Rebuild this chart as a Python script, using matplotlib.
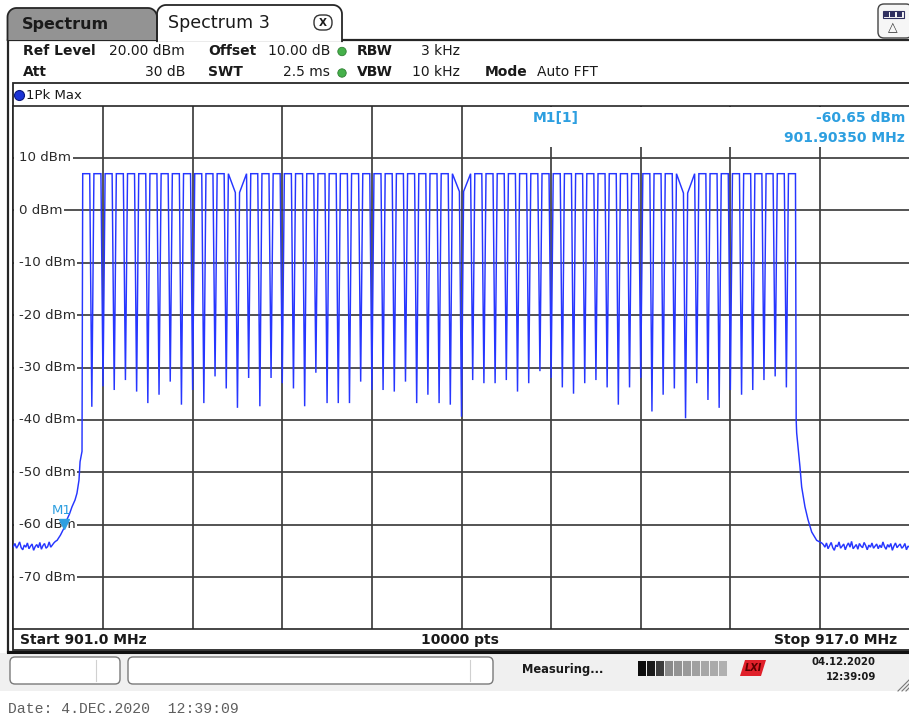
import numpy as np
import matplotlib
matplotlib.use("Agg")
import matplotlib.pyplot as plt
from matplotlib.patches import Rectangle, FancyBboxPatch, Circle, Polygon
from matplotlib.transforms import blended_transform_factory, offset_copy

# ---------------------------------------------------------------- data
start_mhz, stop_mhz = 901.0, 917.0
ref_level_dbm, bottom_dbm = 20.0, -80.0

# LoRa uplink channel plan (125 kHz channels on a 200 kHz raster)
channel_center_mhz = [
    902.3, 902.5, 902.7, 902.9, 903.1, 903.3, 903.5, 903.7, 903.9, 904.1,
    904.3, 904.5, 904.7, 904.9, 905.1, 905.3, 905.5, 905.7, 905.9, 906.1,
    906.3, 906.5, 906.7, 906.9, 907.1, 907.3, 907.5, 907.7, 907.9, 908.1,
    908.3, 908.5, 908.7, 908.9, 909.1, 909.3, 909.5, 909.7, 909.9, 910.1,
    910.3, 910.5, 910.7, 910.9, 911.1, 911.3, 911.5, 911.7, 911.9, 912.1,
    912.3, 912.5, 912.7, 912.9, 913.1, 913.3, 913.5, 913.7, 913.9, 914.1,
    914.3, 914.5, 914.7, 914.9]
channel_bw_mhz = 0.125
carrier_dbm = [
    7.0, 7.0, 7.0, 7.0, 7.0, 7.0, 7.0, 7.0, 7.0, 7.0,
    7.0, 7.0, 7.0, 7.0, 7.0, 7.0, 7.0, 7.0, 7.0, 7.0,
    7.0, 7.0, 7.0, 7.0, 7.0, 7.0, 7.0, 7.0, 7.0, 7.0,
    7.0, 7.0, 7.0, 7.0, 7.0, 7.0, 7.0, 7.0, 7.0, 7.0,
    7.0, 7.0, 7.0, 7.0, 7.0, 7.0, 7.0, 7.0, 7.0, 7.0,
    7.0, 7.0, 7.0, 7.0, 7.0, 7.0, 7.0, 7.0, 7.0, 7.0,
    7.0, 7.0, 7.0, 7.0]
# deepest level reached in each of the 63 gaps between neighbouring channels
gap_floor_dbm = [
    -37.5, -33.6, -34.3, -32.4, -34.6, -36.8, -35.2, -32.7, -37.1, -34.3,
    -36.8, -31.7, -34.0, -37.7, -32.0, -37.4, -32.0, -33.0, -34.0, -37.4,
    -31.0, -36.8, -36.8, -36.8, -32.7, -34.3, -34.3, -34.6, -32.7, -36.8,
    -35.2, -36.8, -37.1, -39.4, -32.4, -33.0, -33.0, -32.4, -34.6, -33.0,
    -30.7, -32.0, -33.8, -35.0, -33.0, -32.4, -33.8, -37.1, -33.8, -32.0,
    -38.4, -35.2, -34.0, -39.7, -33.0, -36.2, -37.7, -34.3, -35.2, -34.3,
    -32.4, -31.7, -33.8]
# gaps (1-based) where the neighbouring channel tops sag towards the gap
sagging_gap_edge_dbm = {14: 3.4, 34: 3.6, 54: 3.3}

# band edges: noise floor and filter skirts
left_floor_dbm = [
    -64.2, -63.6, -64.5, -64.0, -63.3, -64.4, -64.8, -63.9, -64.3, -63.5,
    -64.6, -64.1, -63.7, -64.9, -64.2, -63.8, -64.4, -63.4, -64.7, -64.0,
    -63.6, -64.5, -64.2, -63.3, -64.3, -63.9, -63.5, -63.2]
left_floor_span_mhz = (901.0, 901.75)
left_skirt_mhz = [901.78, 901.84, 901.9035, 901.957, 902.00, 902.046, 902.10,
                  902.135, 902.171, 902.19, 902.225]
left_skirt_dbm = [-63.0, -62.0, -60.65, -59.0, -58.0, -56.6, -55.3,
                  -54.0, -51.5, -48.0, -46.0]
right_skirt_mhz = [914.975, 914.984, 915.043, 915.073, 915.132, 915.185,
                   915.252, 915.341, 915.431]
right_skirt_dbm = [-40.0, -42.5, -49.0, -52.8, -56.6, -59.0, -61.4, -63.0, -63.5]
right_floor_dbm = [
    -63.8, -64.3, -63.5, -64.6, -64.0, -63.4, -64.4, -64.9, -63.9, -64.2,
    -63.3, -64.5, -64.1, -63.7, -64.8, -64.0, -63.5, -64.3, -63.2, -64.6,
    -64.2, -63.8, -64.7, -63.6, -64.1, -64.4, -63.4, -64.0, -64.8, -63.9,
    -64.3, -63.5, -64.5, -64.1, -63.7, -64.6, -63.9, -64.4, -63.3, -64.2,
    -64.7, -63.8, -64.3, -63.6, -64.9, -64.1, -63.5, -64.4, -64.0, -63.7,
    -64.5, -64.2, -63.6, -64.8, -64.1, -64.3]
right_floor_span_mhz = (915.46, 917.0)

marker_mhz, marker_dbm = 901.9035, -60.65

freq_grid_mhz = [902.6, 904.2, 905.8, 907.4, 909.0, 910.6, 912.2, 913.8, 915.4]
level_grid_dbm = [10, 0, -10, -20, -30, -40, -50, -60, -70]

# ---------------------------------------------------------------- trace
f_tr = list(np.linspace(*left_floor_span_mhz, len(left_floor_dbm)))
p_tr = list(left_floor_dbm)
f_tr += left_skirt_mhz
p_tr += left_skirt_dbm
half = channel_bw_mhz / 2
n_ch = len(channel_center_mhz)
for i, fc in enumerate(channel_center_mhz):
    lvl_left = sagging_gap_edge_dbm.get(i, carrier_dbm[i]) if i > 0 else carrier_dbm[i]
    lvl_right = sagging_gap_edge_dbm.get(i + 1, carrier_dbm[i]) if i < n_ch - 1 else carrier_dbm[i]
    f_tr += [fc - half, fc + half]
    p_tr += [lvl_left, lvl_right]
    if i < n_ch - 1:
        f_tr.append((fc + channel_center_mhz[i + 1]) / 2)
        p_tr.append(gap_floor_dbm[i])
f_tr += right_skirt_mhz
p_tr += right_skirt_dbm
f_tr += list(np.linspace(*right_floor_span_mhz, len(right_floor_dbm)))
p_tr += right_floor_dbm

# ---------------------------------------------------------------- figure
W, H = 909, 719
fig = plt.figure(figsize=(W / 100, H / 100), dpi=100)
fig.patch.set_facecolor("white")

bg = fig.add_axes([0, 0, 1, 1], zorder=0)
bg.set_xlim(0, W)
bg.set_ylim(H, 0)
bg.axis("off")

FONT = "DejaVu Sans"
INK = "#1a1a1a"
MARK = "#2d9fe0"
FRAME = "#262626"


def tab_outline(x0, x1, ytop, ybot, r):
    a1 = np.linspace(np.pi, 1.5 * np.pi, 10)
    a2 = np.linspace(1.5 * np.pi, 2 * np.pi, 10)
    pts = [(x0, ybot)]
    pts += [(x0 + r + r * np.cos(a), ytop + r + r * np.sin(a)) for a in a1]
    pts += [(x1 - r + r * np.cos(a), ytop + r + r * np.sin(a)) for a in a2]
    pts += [(x1, ybot)]
    return np.array(pts)


# window panel
bg.add_patch(Rectangle((7.5, 40), 930, 612, fc="white", ec=FRAME, lw=1.6, zorder=1))

# inactive tab
t1 = tab_outline(7.5, 157, 8, 40, 9)
bg.add_patch(Polygon(t1, closed=True, fc="#939393", ec="none", zorder=2))
bg.plot(t1[:, 0], t1[:, 1], color=FRAME, lw=1.3, zorder=3)
bg.text(22, 24.5, "Spectrum", fontsize=11.5, fontweight="bold", family=FONT,
        color=INK, ha="left", va="center", zorder=4)

# active tab
t2 = tab_outline(157, 342, 5, 41.2, 9)
bg.add_patch(Polygon(t2, closed=True, fc="white", ec="none", zorder=2))
bg.plot(t2[:, 0], t2[:, 1], color=FRAME, lw=1.3, zorder=3)
bg.text(168, 23, "Spectrum 3", fontsize=12.6, family=FONT, color=INK,
        ha="left", va="center", zorder=4)
bg.add_patch(FancyBboxPatch((314, 15), 18, 15, boxstyle="round,pad=0,rounding_size=7",
                            fc="white", ec="#333333", lw=1.0, zorder=4))
bg.text(323, 22.5, "X", fontsize=7.5, fontweight="bold", family=FONT, color=INK,
        ha="center", va="center", zorder=5)

# top-right icon
bg.add_patch(FancyBboxPatch((878, 4), 34, 34, boxstyle="round,pad=0,rounding_size=6",
                            fc="#f6f6f6", ec="#444444", lw=1.0, zorder=2))
for k in range(3):
    bg.add_patch(Rectangle((883.5 + 6.5 * k, 12), 5.2, 4.5, fc="#303060", ec="none", zorder=3))
bg.add_patch(Rectangle((882.5, 11), 21, 6.5, fc="none", ec="#303060", lw=0.8, zorder=3))
bg.text(893, 28, "\u25b3", fontsize=9, family=FONT, color="#333333",
        ha="center", va="center", zorder=3)

# settings rows
row1, row2 = 51, 72.5
hdr = dict(fontsize=10, family=FONT, color=INK, va="center", zorder=4)
bg.text(23, row1, "Ref Level", fontweight="bold", ha="left", **hdr)
bg.text(185, row1, "20.00 dBm", ha="right", **hdr)
bg.text(208, row1, "Offset", fontweight="bold", ha="left", **hdr)
bg.text(330, row1, "10.00 dB", ha="right", **hdr)
bg.text(357, row1, "RBW", fontweight="bold", ha="left", **hdr)
bg.text(460, row1, "3 kHz", ha="right", **hdr)
bg.text(23, row2, "Att", fontweight="bold", ha="left", **hdr)
bg.text(185, row2, "30 dB", ha="right", **hdr)
bg.text(208, row2, "SWT", fontweight="bold", ha="left", **hdr)
bg.text(330, row2, "2.5 ms", ha="right", **hdr)
bg.text(357, row2, "VBW", fontweight="bold", ha="left", **hdr)
bg.text(460, row2, "10 kHz", ha="right", **hdr)
bg.text(485, row2, "Mode", fontweight="bold", ha="left", **hdr)
bg.text(537, row2, "Auto FFT", ha="left", **hdr)
for yy in (row1 + 0.5, row2 + 0.5):
    bg.add_patch(Circle((342, yy), 4.2, fc="#45b04a", ec="#2f7f33", lw=0.6, zorder=4))

# inner frame (trace bar + diagram + footer)
bg.add_patch(Rectangle((12.5, 83), 930, 567, fc="white", ec=FRAME, lw=1.3, zorder=2))
bg.add_patch(Circle((19.5, 95.5), 5, fc="#1b33d6", ec="#0b1a80", lw=0.8, zorder=4))
bg.text(26, 95.5, "1Pk Max", fontsize=9.5, family=FONT, color=INK,
        ha="left", va="center", zorder=4)

# footer of the diagram
ftr = dict(fontsize=10, fontweight="bold", family=FONT, color=INK, va="center", zorder=4)
bg.text(20, 640, "Start 901.0 MHz", ha="left", **ftr)
bg.text(460, 640, "10000 pts", ha="center", **ftr)
bg.text(897, 640, "Stop 917.0 MHz", ha="right", **ftr)

# status bar
bg.add_patch(Rectangle((0, 653), W, 38, fc="#f0f0f0", ec="none", zorder=1))
bg.plot([7.5, W], [652, 652], color="#111111", lw=2.2, zorder=3)
for x0, w, sep in ((10, 110, 96), (128, 365, 470)):
    bg.add_patch(FancyBboxPatch((x0, 657), w, 27, boxstyle="round,pad=0,rounding_size=5",
                                fc="white", ec="#7a7a7a", lw=1.0, zorder=2))
    bg.plot([sep, sep], [660, 681], color="#d0d0d0", lw=0.8, zorder=3)
bg.text(522, 669, "Measuring...", fontsize=8.3, fontweight="bold", family=FONT,
        color=INK, ha="left", va="center", zorder=4)
block_shades = ["#0d0d0d", "#1a1a1a", "#3c3c3c", "#8a8a8a", "#939393",
                "#9a9a9a", "#a0a0a0", "#a6a6a6", "#aaaaaa", "#b0b0b0"]
for k, c in enumerate(block_shades):
    bg.add_patch(Rectangle((638 + 9 * k, 661), 8, 15, fc=c, ec="none", zorder=3))
bg.add_patch(Polygon([(740, 676), (745, 660), (766, 660), (761, 676)], closed=True,
                     fc="#e0202a", ec="none", zorder=3))
bg.text(753, 668, "LXI", fontsize=7, fontweight="bold", style="italic", family=FONT,
        color="#5a0000", ha="center", va="center", zorder=4)
bg.text(876, 662, "04.12.2020", fontsize=7.3, fontweight="bold", family=FONT,
        color=INK, ha="right", va="center", zorder=4)
bg.text(876, 677, "12:39:09", fontsize=7.3, fontweight="bold", family=FONT,
        color=INK, ha="right", va="center", zorder=4)
for k in range(3):
    bg.plot([898 + 4 * k, 909], [691, 680 + 4 * k], color="#777777", lw=0.8, zorder=3)

bg.text(8, 709, "Date: 4.DEC.2020  12:39:09", fontsize=10.6, family="Liberation Mono",
        color="#5e5e5e", ha="left", va="center", zorder=4)

# ---------------------------------------------------------------- diagram
x_left, x_right, y_top, y_bot = 13.4, 909.6, 105.6, 629.4
ax = fig.add_axes([x_left / W, (H - y_bot) / H, (x_right - x_left) / W, (y_bot - y_top) / H],
                  zorder=2)
ax.set_xlim(start_mhz, stop_mhz)
ax.set_ylim(bottom_dbm, ref_level_dbm)
ax.set_facecolor("white")
ax.set_xticks(freq_grid_mhz)
ax.set_yticks(level_grid_dbm)
ax.tick_params(length=0, labelbottom=False, labelleft=False)
ax.grid(True, color="#3e3e3e", lw=1.25)
for s in ax.spines.values():
    s.set_color(FRAME)
    s.set_linewidth(1.2)

lab_tr = blended_transform_factory(ax.transAxes, ax.transData)
# keep the level grid lines clear of the left margin in front of the labels
ax.add_patch(Rectangle((0.0012, bottom_dbm), 0.0062, ref_level_dbm - bottom_dbm,
                       transform=lab_tr, fc="white", ec="none", zorder=2.4))
for lv in level_grid_dbm:
    ax.text(0.0065, lv, f"{lv} dBm", transform=lab_tr, fontsize=9.6, family=FONT,
            color="#2a2a2a", ha="left", va="center", zorder=2.5,
            bbox=dict(fc="white", ec="none", pad=1.0))

ax.plot(f_tr, p_tr, color="#2636ff", lw=1.05, zorder=3, solid_joinstyle="miter")

# marker M1
tip = offset_copy(ax.transData, fig=fig, x=0, y=4.5, units="dots")
ax.plot([marker_mhz], [marker_dbm], marker="v", ms=7.5, color=MARK, mec=MARK,
        transform=tip, zorder=4, linestyle="none")
ax.annotate("M1", xy=(marker_mhz, marker_dbm), xytext=(-2, 18), textcoords="offset pixels",
            fontsize=9.5, family=FONT, color=MARK, ha="center", va="center", zorder=4)

# marker readout (drawn on an overlay in pixel coordinates)
ov = fig.add_axes([0, 0, 1, 1], zorder=5)
ov.set_xlim(0, W)
ov.set_ylim(H, 0)
ov.axis("off")
ov.patch.set_alpha(0)
ov.add_patch(Rectangle((522, 107), 386, 40, fc="white", ec="none", zorder=1))
mk = dict(fontsize=10, fontweight="bold", family=FONT, color=MARK, va="center", zorder=2)
ov.text(533, 118.5, "M1[1]", ha="left", **mk)
ov.text(905, 118.5, f"{marker_dbm:.2f} dBm", ha="right", **mk)
ov.text(905, 137.5, f"{marker_mhz:.5f} MHz", ha="right", **mk)

fig.savefig("out.png", dpi=100, facecolor="white")
